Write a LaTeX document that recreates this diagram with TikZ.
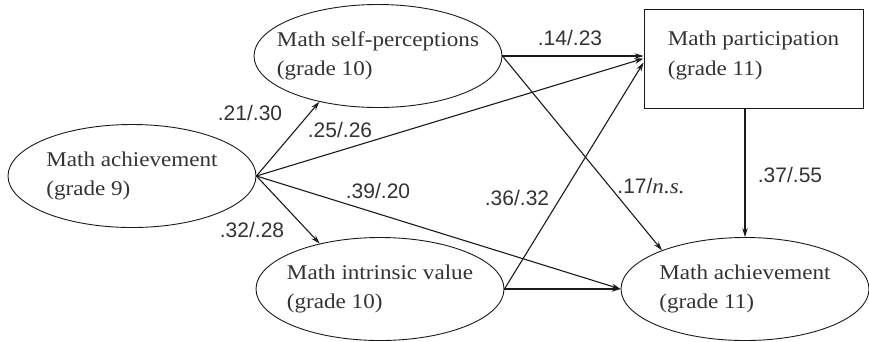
\documentclass[tikz,border=0pt]{standalone}
\usepackage{fontspec}
\setmainfont[FakeStretch=1.1]{Liberation Serif}
\newfontfamily\numfont{Liberation Sans}
\usetikzlibrary{positioning,shapes.geometric,arrows.meta}
\definecolor{ink}{HTML}{333333}
\definecolor{wire}{HTML}{1A1A1A}
\tikzset{
  vartext/.style={align=left,inner sep=0,text=ink,font=\fontsize{21}{29.5}\selectfont},
  coeftext/.style={inner sep=0,text=ink,font=\numfont\fontsize{21}{24}\selectfont},
  link/.style={->,draw=wire,line width=1.1pt}
}
\newcommand{\varnode}[4]{% x, y, name, label   (ellipse, 248 x 103)
  \node[draw=wire,ellipse,line width=0.9pt,minimum width=248pt,minimum height=103pt,inner sep=0] (#3) at (#1,#2) {};
  \node[vartext] (#3-txt) at (#3) {#4};}
\newcommand{\coef}[4]{% x, y (baseline), name, value
  \node[coeftext,anchor=base] (#3) at (#1,#2) {#4};}

\begin{document}
\begin{tikzpicture}[x=1pt,y=-1pt,>={Stealth[length=9pt,width=5.5pt]}]
  \useasboundingbox (0,0) rectangle (869,341);
  % ---- variables ----
  \varnode{132}{176}{ach9}{Math achievement\\(grade 9)}
  \varnode{378}{56}{selfp}{Math self-perceptions\\(grade 10)}
  \varnode{380}{289}{intr}{Math intrinsic value\\(grade 10)}
  \varnode{745}{289}{ach11}{Math achievement\\(grade 11)}
  \node[draw=wire,line width=0.9pt,minimum width=219pt,minimum height=99pt,inner sep=0] (part) at (753.5,58.5) {};
  \node[vartext,yshift=3pt] (part-txt) at (part) {Math participation\\(grade 11)};
  % ---- paths from grade 9 achievement ----
  \draw[link] (ach9.east) -- (selfp.218);
  \draw[link] (ach9.east) -- (intr.143);
  \draw[link] (ach9.east) -- (part.west);
  \draw[link] (ach9.east) -- (ach11.west);
  % ---- paths from grade 10 ----
  \draw[link] (selfp.east) -- (selfp.east -| part.west);
  \draw[link] (selfp.east) -- (ach11.155);
  \draw[link] (intr.east) -- ([yshift=-4pt]part.west);
  \draw[link] (intr.east) -- (intr.east -| ach11.west);
  % participation to achievement
  \draw[link] (part.south -| ach11.north) -- (ach11.north);
  % ---- coefficients ----
  \coef{250}{120}{c1}{.21/.30}
  \coef{340}{137}{c2}{.25/.26}
  \coef{378}{198}{c3}{.39/.20}
  \coef{252}{237}{c4}{.32/.28}
  \coef{570}{45}{c5}{.14/.23}
  \coef{651}{193}{c6}{.17/{\rmfamily\itshape n.s.}}
  \coef{517}{205}{c7}{.36/.32}
  \coef{790}{182}{c8}{.37/.55}
\end{tikzpicture}
\end{document}
